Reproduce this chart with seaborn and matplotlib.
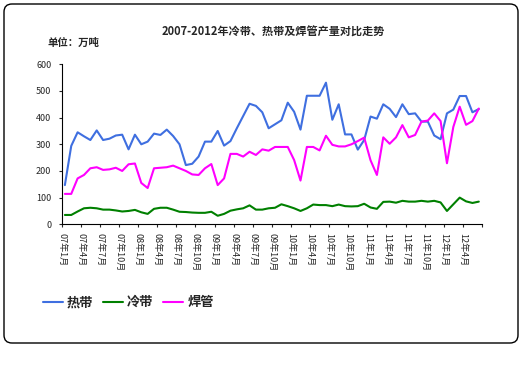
import matplotlib
matplotlib.use("Agg")
import matplotlib.pyplot as plt
from matplotlib.patches import FancyBboxPatch
import numpy as np
import pandas as pd
import seaborn as sns

# monthly output, 07年1月 .. 12年6月 (万吨)
months = [f"{y:02d}年{m}月" for y in range(7, 13) for m in range(1, 13)][:66]

hot_strip = [147, 294, 345, 330, 316, 352, 316, 321, 333, 336, 281, 336,
             300, 310, 340, 335, 355, 331, 300, 222, 227, 254, 310, 310,
             350, 295, 312, 360, 406, 452, 444, 420, 360, 375, 390, 456,
             422, 355, 482, 482, 482, 531, 392, 450, 337, 337, 280, 316,
             404, 396, 450, 433, 402, 450, 413, 416, 385, 385, 333, 319,
             416, 430, 481, 481, 420, 432]
cold_strip = [35, 35, 48, 60, 62, 60, 55, 55, 52, 48, 50, 54,
              45, 39, 58, 62, 62, 55, 47, 46, 44, 43, 43, 47,
              32, 39, 51, 56, 60, 71, 55, 55, 60, 62, 75, 68,
              60, 50, 60, 74, 72, 72, 68, 74, 68, 67, 68, 77,
              63, 58, 84, 85, 81, 88, 85, 85, 88, 85, 88, 82,
              50, 75, 100, 86, 80, 85]
welded_pipe = [114, 114, 172, 185, 210, 214, 204, 206, 212, 200, 225, 228,
               155, 136, 210, 212, 214, 220, 210, 200, 187, 185, 210, 226,
               147, 172, 264, 264, 254, 272, 260, 281, 276, 290, 290, 290,
               241, 164, 290, 290, 277, 332, 298, 292, 292, 300, 312, 325,
               240, 185, 326, 302, 326, 372, 326, 335, 385, 389, 416, 387,
               229, 365, 441, 373, 387, 434]

series_names = ["热带", "冷带", "焊管"]
series_colors = ["#3F6FE0", "#008000", "#FF00FF"]
tick_labels = months[::3]

sns.set_theme(style="white")
plt.rcParams["font.family"] = ["Noto Sans CJK SC", "DejaVu Sans"]
plt.rcParams["axes.unicode_minus"] = False

n = len(months)
df = pd.DataFrame({
    "idx": np.tile(np.arange(n), 3),
    "产量": hot_strip + cold_strip + welded_pipe,
    "品种": np.repeat(series_names, n),
})

fig = plt.figure(figsize=(5.3, 3.84), dpi=100)
ax = fig.add_axes([0.1164, 0.4159, 0.7930, 0.4167])

sns.lineplot(data=df, x="idx", y="产量", hue="品种", hue_order=series_names,
             palette=series_colors, linewidth=1.5, ax=ax, legend=True)

ax.set_xlim(-0.5, n - 0.5)
ax.set_ylim(0, 600)
ax.set_yticks(range(0, 601, 100))
ax.set_xticks(np.arange(-0.5, n, 3))
ax.set_xticklabels(tick_labels + [""], rotation=-90, fontsize=6.5)
ax.tick_params(axis="y", labelsize=6.5, length=2.5, width=0.8, pad=5,
               direction="out", left=True)
ax.tick_params(axis="x", length=2.5, width=0.8, pad=4, direction="out",
               bottom=True)
for lbl in ax.get_xticklabels():
    lbl.set_va("top")
ax.set_xlabel("")
ax.set_ylabel("")
sns.despine(ax=ax)
for s in ["left", "bottom"]:
    ax.spines[s].set_color("black")
    ax.spines[s].set_linewidth(0.8)

# legend under the plot
handles, labels = ax.get_legend_handles_labels()
ax.legend(handles, labels, loc="center left", bbox_to_anchor=(0.059, 0.213),
          bbox_transform=fig.transFigure, ncol=3, frameon=False,
          handlelength=1.5, handletextpad=0.3, columnspacing=0.75,
          prop={"size": 9.5, "weight": "bold"})

fig.text(273 / 530, 1 - 32 / 384, "2007-2012年冷带、热带及焊管产量对比走势",
         ha="center", va="center", fontsize=8, fontweight="bold")
fig.text(48 / 530, 1 - 43 / 384, "单位：万吨", ha="left", va="center",
         fontsize=7.5, fontweight="bold")

# rounded outer frame
frame = FancyBboxPatch((0.04, 0.41), 5.14, 3.39,
                       boxstyle="round,pad=0,rounding_size=0.08",
                       transform=fig.dpi_scale_trans, fill=False,
                       ec="black", lw=1.0)
fig.patches.append(frame)

fig.savefig("out.png", dpi=100, facecolor="white")
